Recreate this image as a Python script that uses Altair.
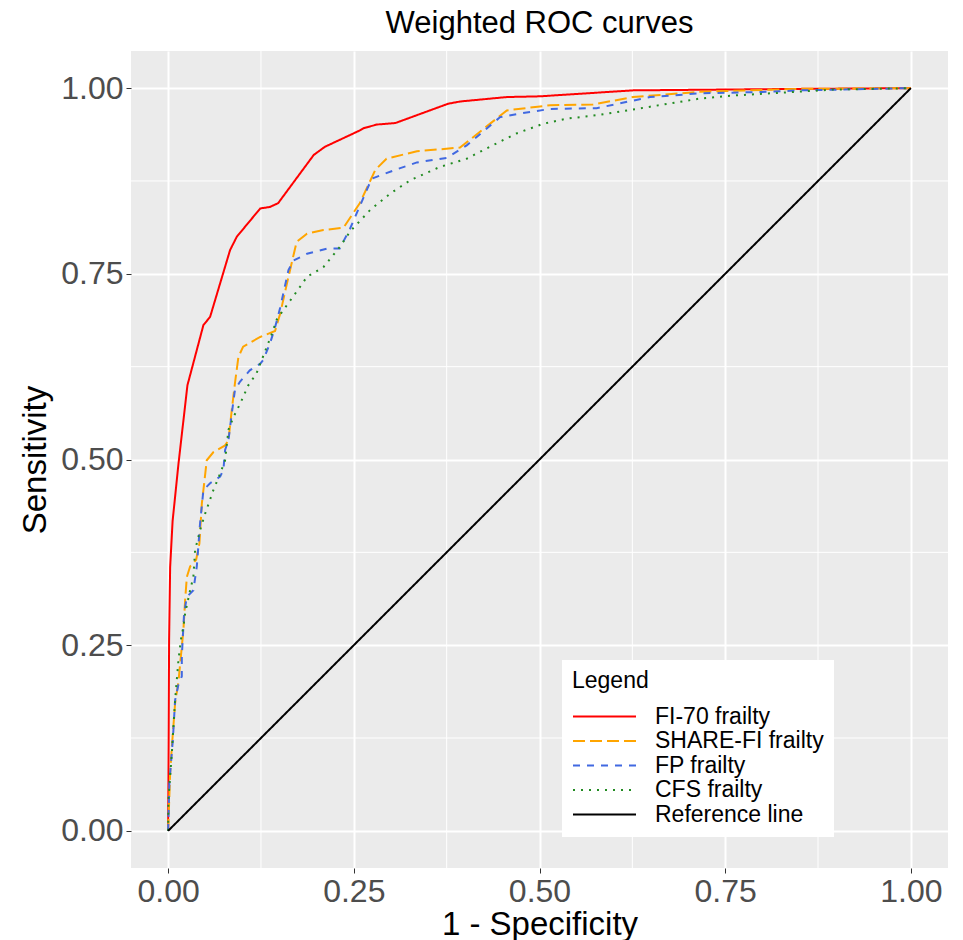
import altair as alt
import pandas as pd

# ---- data ----
series_names = ["FI-70 frailty", "SHARE-FI frailty", "FP frailty", "CFS frailty", "Reference line"]
series_colors = ["#FF0000", "#FFA500", "#4169E1", "#228B22", "#000000"]
series_dashes = [[1, 0], [12, 5], [7, 7], [2, 6], [1, 0]]

fi70_fpr = [0, 0.0007, 0.0013, 0.0027, 0.006, 0.014, 0.026, 0.0475, 0.0565, 0.0834, 0.0925,
            0.124, 0.137, 0.148, 0.196, 0.211, 0.258, 0.263, 0.281, 0.306, 0.377, 0.393,
            0.456, 0.501, 0.626, 0.851, 1]
fi70_tpr = [0, 0.122, 0.257, 0.355, 0.417, 0.495, 0.600, 0.681, 0.692, 0.782, 0.800,
            0.838, 0.840, 0.845, 0.910, 0.921, 0.943, 0.946, 0.951, 0.953, 0.979, 0.982,
            0.988, 0.989, 0.997, 0.999, 1]

share_fpr = [0, 0.0027, 0.005, 0.0094, 0.0139, 0.0206, 0.0229, 0.0252, 0.0296, 0.0377, 0.0421,
             0.0454, 0.0475, 0.052, 0.061, 0.0767, 0.0812, 0.0857, 0.090, 0.0946, 0.101, 0.124,
             0.144, 0.151, 0.162, 0.173, 0.187, 0.209, 0.236, 0.258, 0.279, 0.294, 0.335, 0.393,
             0.456, 0.514, 0.572, 0.626, 0.716, 0.851, 1]
share_tpr = [0, 0.078, 0.113, 0.172, 0.201, 0.271, 0.311, 0.342, 0.356, 0.365, 0.387,
             0.441, 0.459, 0.499, 0.510, 0.519, 0.526, 0.567, 0.603, 0.638, 0.652, 0.665,
             0.673, 0.697, 0.746, 0.793, 0.804, 0.809, 0.812, 0.845, 0.890, 0.905, 0.915, 0.920,
             0.970, 0.977, 0.978, 0.988, 0.995, 0.999, 1]

fp_fpr = [0, 0.0017, 0.0063, 0.0094, 0.0139, 0.0184, 0.0184, 0.0215, 0.0252, 0.034, 0.0386,
          0.043, 0.0475, 0.0565, 0.070, 0.0744, 0.0767, 0.0812, 0.0857, 0.090, 0.0969, 0.110,
          0.124, 0.128, 0.137, 0.144, 0.151, 0.162, 0.169, 0.187, 0.214, 0.231, 0.245, 0.274,
          0.303, 0.335, 0.375, 0.402, 0.447, 0.469, 0.514, 0.577, 0.649, 0.716, 0.806, 0.851, 1]
fp_tpr = [0, 0.065, 0.122, 0.176, 0.197, 0.208, 0.235, 0.293, 0.315, 0.324, 0.356,
          0.414, 0.459, 0.468, 0.477, 0.486, 0.513, 0.526, 0.562, 0.594, 0.605, 0.620,
          0.629, 0.634, 0.656, 0.678, 0.705, 0.755, 0.768, 0.777, 0.784, 0.784, 0.811, 0.878,
          0.889, 0.900, 0.906, 0.923, 0.961, 0.965, 0.972, 0.973, 0.988, 0.993, 0.995, 0.997, 1]

cfs_fpr = [0, 0.0004, 0.005, 0.0071, 0.0094, 0.0139, 0.0171, 0.0206, 0.0229, 0.0296, 0.034,
           0.0363, 0.043, 0.0498, 0.061, 0.070, 0.0767, 0.0812, 0.0879, 0.0969, 0.108, 0.119,
           0.126, 0.133, 0.140, 0.146, 0.155, 0.173, 0.187, 0.209, 0.231, 0.245, 0.272, 0.299,
           0.326, 0.366, 0.402, 0.433, 0.469, 0.505, 0.537, 0.581, 0.649, 0.716, 0.760, 0.828,
           0.895, 1]
cfs_tpr = [0, 0.042, 0.105, 0.140, 0.176, 0.230, 0.257, 0.275, 0.293, 0.324, 0.342,
           0.378, 0.405, 0.427, 0.459, 0.481, 0.499, 0.540, 0.557, 0.575, 0.600, 0.616,
           0.634, 0.652, 0.670, 0.688, 0.701, 0.726, 0.746, 0.759, 0.786, 0.807, 0.836, 0.858,
           0.876, 0.894, 0.905, 0.921, 0.939, 0.952, 0.959, 0.964, 0.975, 0.986, 0.990, 0.994,
           0.998, 1]

ref_fpr = [0, 1]
ref_tpr = [0, 1]

major_breaks = [0, 0.25, 0.5, 0.75, 1]
minor_breaks = [0.125, 0.375, 0.625, 0.875]

# ---- build table ----
rows = []
for name, xs, ys in zip(series_names,
                        [fi70_fpr, share_fpr, fp_fpr, cfs_fpr, ref_fpr],
                        [fi70_tpr, share_tpr, fp_tpr, cfs_tpr, ref_tpr]):
    for i, (a, b) in enumerate(zip(xs, ys)):
        rows.append({"series": name, "fpr": a, "tpr": b, "idx": i})
df = pd.DataFrame(rows)
minor_df = pd.DataFrame({"v": minor_breaks})

FONT = "Liberation Sans"
xscale = alt.Scale(domain=[-0.05, 1.05], nice=False, zero=False)
yscale = alt.Scale(domain=[-0.05, 1.05], nice=False, zero=False)

minor_x = alt.Chart(minor_df).mark_rule(color="white", strokeWidth=1).encode(
    x=alt.X("v:Q", scale=xscale)
)
minor_y = alt.Chart(minor_df).mark_rule(color="white", strokeWidth=1).encode(
    y=alt.Y("v:Q", scale=yscale)
)

lines = alt.Chart(df).mark_line(strokeWidth=2).encode(
    x=alt.X("fpr:Q", scale=xscale, title="1 - Specificity",
            axis=alt.Axis(values=major_breaks, format=".2f")),
    y=alt.Y("tpr:Q", scale=yscale, title="Sensitivity",
            axis=alt.Axis(values=major_breaks, format=".2f")),
    color=alt.Color("series:N", sort=series_names, title="Legend",
                    scale=alt.Scale(domain=series_names, range=series_colors)),
    strokeDash=alt.StrokeDash("series:N", sort=series_names, title="Legend",
                              scale=alt.Scale(domain=series_names, range=series_dashes)),
    order=alt.Order("idx:Q"),
)

chart = alt.layer(minor_x, minor_y, lines).properties(
    width=817,
    height=817,
    autosize=alt.AutoSizeParams(type="none"),
    padding={"left": 123, "top": 43, "right": 7, "bottom": 72},
    title=alt.Title("Weighted ROC curves", font=FONT, fontSize=31, fontWeight="normal",
                    color="black", anchor="middle", offset=11),
).configure_view(
    fill="#EBEBEB", stroke=None
).configure_axis(
    grid=True, gridColor="white", gridWidth=2,
    domain=False,
    tickColor="#333333", tickSize=5, tickWidth=1,
    labelFont=FONT, labelFontSize=32, labelColor="#4D4D4D", labelPadding=3,
    titleFont=FONT, titleFontSize=33, titleColor="black", titleFontWeight="normal",
).configure_axisX(
    titlePadding=1
).configure_axisY(
    titlePadding=8
).configure_legend(
    orient="none", legendX=431, legendY=609,
    fillColor="white", padding=10,
    titleFont=FONT, titleFontSize=23, titleFontWeight="normal", titleColor="black",
    titlePadding=12,
    labelFont=FONT, labelFontSize=23, labelColor="black", labelOffset=60, labelLimit=400,
    symbolType="M-1,0H5", symbolSize=441, symbolStrokeWidth=2,
    rowPadding=0.5,
)

chart.save("out.html", embed_options={"renderer": "svg", "actions": False})
